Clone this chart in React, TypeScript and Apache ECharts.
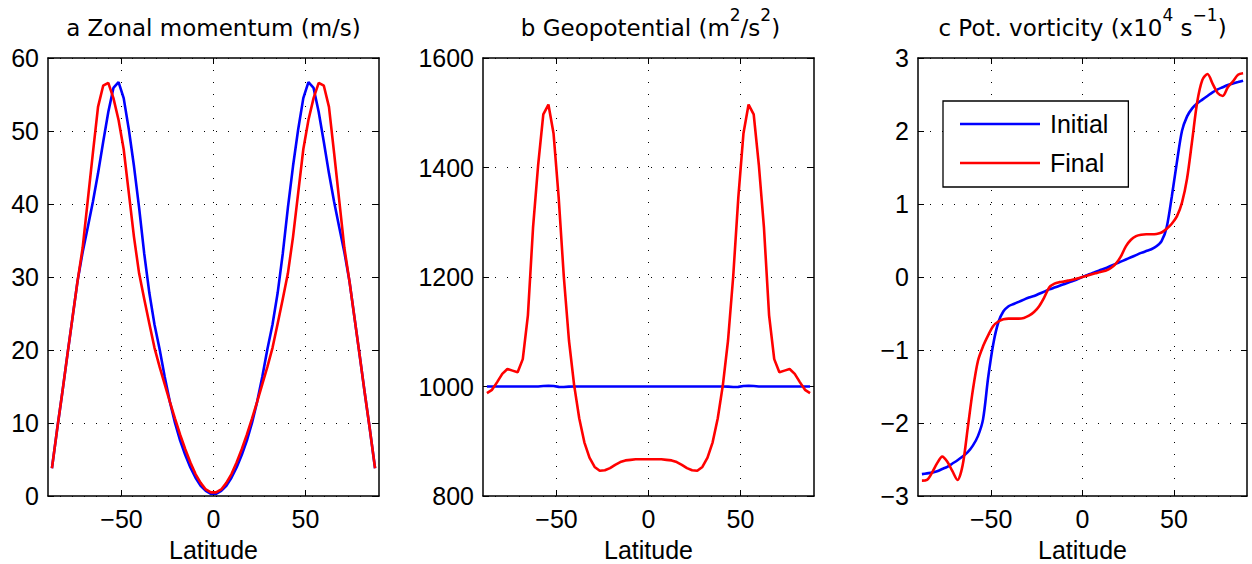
import React, { useEffect, useRef } from 'react';
import * as echarts from 'echarts';

// Gaussian-grid latitudes (degrees)
const latitudes = [
  -87.86, -85.1, -82.31, -79.53, -76.74, -73.95, -71.16, -68.37, -65.58, -62.79, -60.0, -57.21,
  -54.42, -51.63, -48.84, -46.04, -43.25, -40.46, -37.67, -34.88, -32.09, -29.3, -26.51, -23.72,
  -20.93, -18.14, -15.35, -12.56, -9.77, -6.98, -4.19, -1.4,
  1.4, 4.19, 6.98, 9.77, 12.56, 15.35, 18.14, 20.93, 23.72, 26.51, 29.3, 32.09, 34.88, 37.67,
  40.46, 43.25, 46.04, 48.84, 51.63, 54.42, 57.21, 60.0, 62.79, 65.58, 68.37, 71.16, 73.95,
  76.74, 79.53, 82.31, 85.1, 87.86,
];

// a: Zonal momentum (m/s)
const zonalInitial = [
  3.8, 9.0, 14.0, 19.2, 24.3, 29.4, 33.4, 36.8, 40.3, 44.2, 48.5, 52.6, 55.9, 56.7, 54.5, 50.2,
  45.2, 39.5, 33.2, 27.8, 23.5, 20.1, 16.3, 12.9, 10.0, 7.6, 5.6, 3.9, 2.5, 1.4, 0.7, 0.3,
  0.3, 0.7, 1.4, 2.5, 3.9, 5.6, 7.6, 10.0, 12.9, 16.3, 20.1, 23.5, 27.8, 33.2, 39.5, 45.2,
  50.2, 54.5, 56.7, 55.9, 52.6, 48.5, 44.2, 40.3, 36.8, 33.4, 29.4, 24.3, 19.2, 14.0, 9.0, 3.8,
];
const zonalFinal = [
  3.8, 9.0, 14.0, 19.2, 24.3, 29.4, 34.0, 40.5, 47.0, 53.3, 56.2, 56.6, 54.5, 51.5, 47.5, 41.5,
  35.5, 30.5, 27.0, 23.6, 20.3, 17.7, 15.3, 12.9, 10.6, 8.4, 6.4, 4.6, 3.0, 1.8, 0.9, 0.5,
  0.5, 0.9, 1.8, 3.0, 4.6, 6.4, 8.4, 10.6, 12.9, 15.3, 17.7, 20.3, 23.6, 27.0, 30.5, 35.5,
  41.5, 47.5, 51.5, 54.5, 56.6, 56.2, 53.3, 47.0, 40.5, 34.0, 29.4, 24.3, 19.2, 14.0, 9.0, 3.8,
];

// b: Geopotential (m^2/s^2)
const geoInitial = [
  1000, 1000, 1000, 1000, 1000, 1000, 1000, 1000, 1000, 1000, 1000, 1000.8, 1001.5, 1001, 999.3, 999,
  999.8, 1000, 1000, 1000, 1000, 1000, 1000, 1000, 1000, 1000, 1000, 1000, 1000, 1000, 1000, 1000,
  1000, 1000, 1000, 1000, 1000, 1000, 1000, 1000, 1000, 1000, 1000, 1000, 1000, 1000, 1000, 999.8,
  999, 999.3, 1001, 1001.5, 1000.8, 1000, 1000, 1000, 1000, 1000, 1000, 1000, 1000, 1000, 1000, 1000,
];
const geoFinal = [
  988, 994, 1008, 1023, 1032, 1029, 1026, 1050, 1130, 1290, 1405, 1497, 1515, 1462, 1345, 1200,
  1084, 1003, 942, 898, 870, 853, 846, 847, 851, 857, 862, 865, 866, 867, 867, 867,
  867, 867, 867, 866, 865, 862, 857, 851, 847, 846, 853, 870, 898, 942, 1003, 1084,
  1200, 1345, 1462, 1515, 1497, 1405, 1290, 1130, 1050, 1026, 1029, 1032, 1023, 1008, 994, 988,
];

// c: Potential vorticity (x10^4 s^-1)
const pvInitial = [
  -2.7, -2.69, -2.68, -2.66, -2.63, -2.6, -2.555, -2.51, -2.46, -2.4, -2.31, -2.18, -1.95, -1.38, -0.92, -0.62,
  -0.47, -0.4, -0.37, -0.34, -0.31, -0.28, -0.26, -0.23, -0.2, -0.17, -0.145, -0.12, -0.095, -0.07, -0.045, -0.015,
  0.015, 0.04, 0.07, 0.095, 0.12, 0.15, 0.18, 0.21, 0.24, 0.27, 0.3, 0.33, 0.355, 0.38, 0.42, 0.49,
  0.68, 1.1, 1.57, 2.0, 2.2, 2.31, 2.38, 2.43, 2.48, 2.53, 2.57, 2.6, 2.63, 2.65, 2.67, 2.69,
];
const pvFinal = [
  -2.79, -2.78, -2.68, -2.55, -2.46, -2.53, -2.66, -2.78, -2.58, -2.07, -1.55, -1.15, -0.95, -0.8, -0.67, -0.61,
  -0.58, -0.57, -0.57, -0.57, -0.56, -0.53, -0.48, -0.4, -0.28, -0.14, -0.09, -0.07, -0.06, -0.045, -0.03, -0.01,
  0.01, 0.03, 0.05, 0.07, 0.085, 0.12, 0.18, 0.28, 0.42, 0.51, 0.56, 0.58, 0.585, 0.585, 0.59, 0.61,
  0.66, 0.73, 0.83, 1.02, 1.35, 1.87, 2.4, 2.7, 2.78, 2.65, 2.52, 2.48, 2.6, 2.68, 2.77, 2.79,
];

const seriesNames = ['Initial', 'Final'];
const seriesColors = ['#0000ff', '#ff0000'];
const xAxisName = 'Latitude';
const xTickValues = [-50, 0, 50];
const yRanges = [
  { min: 0, max: 60, interval: 10 },
  { min: 800, max: 1600, interval: 200 },
  { min: -3, max: 3, interval: 1 },
];
const panelTitles = [
  '{t|a Zonal momentum (m/s)}',
  '{t|b Geopotential (m}{s|2}{t|/s}{s|2}{t|)}',
  '{t|c Pot. vorticity (x10}{s|4}{t| s}{s|\u22121}{t|)}',
];

const FONT = '"Liberation Sans", Arial, Helvetica, sans-serif';
const TITLE_FONT = '"DejaVu Sans", sans-serif';

const grids = [
  { left: 48, top: 58, width: 331, height: 438 },
  { left: 483, top: 58, width: 331, height: 438 },
  { left: 918, top: 58, width: 329, height: 438 },
];

const fmt = (v: number) => String(v).replace('-', '\u2212');

function buildOption() {
  const xAxis: any[] = [];
  const yAxis: any[] = [];
  const series: any[] = [];
  const panelData = [
    [zonalInitial, zonalFinal],
    [geoInitial, geoFinal],
    [pvInitial, pvFinal],
  ];
  grids.forEach((_, i) => {
    const line = { show: true, onZero: false, lineStyle: { color: '#000', width: 1.5 } };
    const xTick = {
      show: true, inside: true, length: 6, lineStyle: { color: '#000', width: 1 },
      customValues: xTickValues,
    };
    const yTick = { show: true, inside: true, length: 6, lineStyle: { color: '#000', width: 1 } };
    const dotted = { show: true, lineStyle: { color: '#000', width: 1, type: [1, 11] } };
    xAxis.push({
      type: 'value', gridIndex: i, position: 'bottom', min: -90, max: 90,
      axisLine: line, axisTick: xTick,
      axisLabel: {
        margin: 10, fontSize: 25, color: '#000', fontFamily: FONT, formatter: fmt,
        customValues: xTickValues,
      },
      splitLine: dotted,
      name: xAxisName, nameLocation: 'middle', nameGap: 41,
      nameTextStyle: { fontSize: 25, color: '#000', fontFamily: FONT },
    });
    xAxis.push({
      type: 'value', gridIndex: i, position: 'top', min: -90, max: 90,
      axisLine: line, axisTick: xTick,
      axisLabel: { show: false, customValues: xTickValues }, splitLine: { show: false },
    });
    const yr = yRanges[i];
    yAxis.push({
      type: 'value', gridIndex: i, position: 'left', min: yr.min, max: yr.max, interval: yr.interval,
      axisLine: line, axisTick: yTick,
      axisLabel: { margin: 9, fontSize: 25, color: '#000', fontFamily: FONT, formatter: fmt },
      splitLine: dotted,
    });
    yAxis.push({
      type: 'value', gridIndex: i, position: 'right', min: yr.min, max: yr.max, interval: yr.interval,
      axisLine: line, axisTick: yTick, axisLabel: { show: false }, splitLine: { show: false },
    });
    panelData[i].forEach((arr, k) => {
      series.push({
        type: 'line', name: seriesNames[k], xAxisIndex: 2 * i, yAxisIndex: 2 * i,
        data: latitudes.map((lat, j) => [lat, arr[j]]),
        symbol: 'none', showSymbol: false,
        smooth: i === 2 ? 0.3 : false,
        lineStyle: { color: seriesColors[k], width: 2.6 },
        itemStyle: { color: seriesColors[k] },
        z: 3 + k,
      });
    });
  });

  const centers = grids.map((g) => g.left + g.width / 2);
  const graphic = panelTitles.map((t, i) => ({
    type: 'text', x: centers[i] + (i === 1 ? 2 : 0), y: 6, z: 10,
    style: {
      text: t, align: 'center', verticalAlign: 'top', fill: '#000',
      rich: {
        t: { fontFamily: TITLE_FONT, fontSize: 23, lineHeight: 44, fill: '#000' },
        s: { fontFamily: TITLE_FONT, fontSize: 17, lineHeight: 17, verticalAlign: 'top', fill: '#000' },
      },
    },
  }));

  return {
    animation: false,
    backgroundColor: '#fff',
    grid: grids.map((g) => ({ ...g, containLabel: false, outerBoundsMode: 'none' })),
    xAxis, yAxis, series, graphic,
    legend: {
      show: true, data: seriesNames, orient: 'vertical', left: 943, top: 101,
      icon: 'rect', itemWidth: 80, itemHeight: 2.5, itemGap: 9,
      padding: [8, 20, 9, 17],
      borderColor: '#000', borderWidth: 1.3, backgroundColor: '#fff',
      textStyle: { fontSize: 25, color: '#000', fontFamily: FONT, lineHeight: 30, padding: [0, 0, 0, 5] },
      selectedMode: false,
      z: 20,
    },
  };
}

export default function App() {
  const ref = useRef<HTMLDivElement>(null);
  useEffect(() => {
    const chart = echarts.init(ref.current!, null, { renderer: 'svg' });
    chart.setOption(buildOption() as any);
    return () => chart.dispose();
  }, []);
  return (
    <div
      ref={ref}
      style={{ position: 'fixed', left: 0, top: 0, width: 1252, height: 564, background: '#fff' }}
    />
  );
}
